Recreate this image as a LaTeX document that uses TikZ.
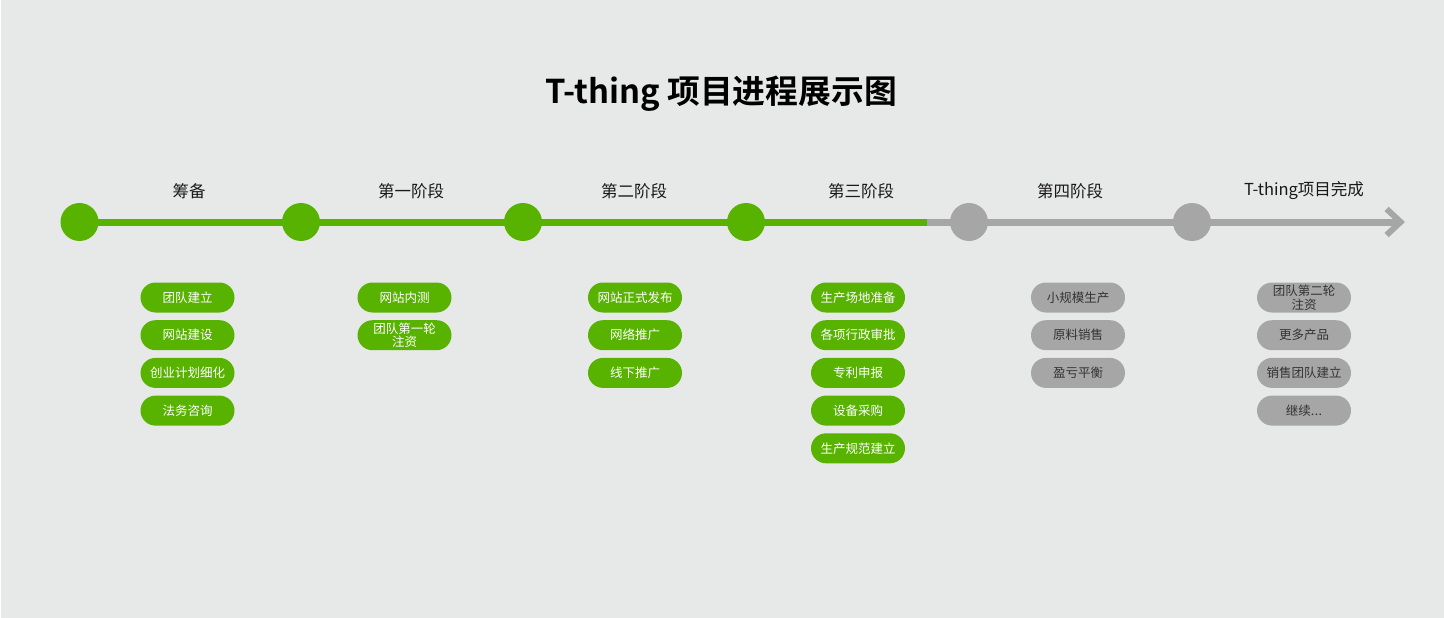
\documentclass[tikz,border=0pt]{standalone}
\usepackage{fontspec}
\setmainfont{Noto Sans CJK SC}[BoldFont={Noto Sans CJK SC Bold}]
\usepackage{xcolor}
\usetikzlibrary{positioning, arrows.meta, math}
\definecolor{tgreen}{RGB}{88,178,0}
\definecolor{tgray}{RGB}{166,166,166}
\definecolor{tbg}{RGB}{231,233,232}
\definecolor{tink}{RGB}{25,25,25}
\definecolor{tgraytext}{RGB}{51,51,51}
\newcommand{\moredots}{.\kern0.5pt.\kern0.5pt.}

\tikzset{
  stagedot/.style={circle, inner sep=0pt, minimum size=38pt},
  pill/.style={rounded corners=15pt, minimum width=94pt, minimum height=30pt,
    inner sep=0pt, align=center, font=\fontsize{12.5}{13.5}\selectfont},
  greenpill/.style={pill, fill=tgreen, text=white},
  graypill/.style={pill, fill=tgray, text=tgraytext},
  stagelabel/.style={font=\fontsize{16.5}{18}\selectfont, text=tink},
}

\begin{document}
\begin{tikzpicture}[x=1pt, y=-1pt]

\tikzmath{
\yline = 222;
\ytop = 297.5;
\dy = 37.7;
}
%
\fill[white] (0,0) rectangle (1444,618);
\fill[tbg] (1,0) rectangle (1444,618);
\useasboundingbox (0,0) rectangle (1444,618);

\node[font=\fontsize{32.8}{36}\selectfont\bfseries, text=black] (title) at (721,94) {T-thing 项目进程展示图};

% timeline
\foreach \i/\x in {1/79.5, 2/301, 3/523, 4/746}{
  \node[stagedot, fill=tgreen] (d\i) at (\x,\yline) {};
}
\foreach \i/\x in {5/969, 6/1192}{
  \node[stagedot, fill=tgray] (d\i) at (\x,\yline) {};
}
\coordinate (split) at (927,\yline);
\coordinate (tip) at (1405,\yline);

\draw[tgreen, line width=7pt] (d1.center) -- (d4.center) -- (split);
\draw[tgray, line width=7pt, -{Straight Barb[length=14pt, width=26pt, line width=6pt]}] (split) -- (d5.center) -- (d6.center) -- (tip);

% stage labels
\foreach \i/\x/\t in {1/189/筹备, 2/411/第一阶段, 3/634/第二阶段, 4/861/第三阶段, 5/1070/第四阶段, 6/1304/T-thing项目完成}{
  \node[stagelabel] (s\i) at (\x,191) {\t};
}

% tasks
\foreach \t [count=\j] in {团队建立, 网站建设, 创业计划细化, 法务咨询}{
  \node[greenpill] (a\j) at (187.5, {\ytop+\dy*(\j-1)}) {\t};
}
\foreach \t [count=\j] in {网站内测, {团队第一轮\\注资}}{
  \node[greenpill] (b\j) at (404.5, {\ytop+\dy*(\j-1)}) {\t};
}
\foreach \t [count=\j] in {网站正式发布, 网络推广, 线下推广}{
  \node[greenpill] (c\j) at (635, {\ytop+\dy*(\j-1)}) {\t};
}
\foreach \t [count=\j] in {生产场地准备, 各项行政审批, 专利申报, 设备采购, 生产规范建立}{
  \node[greenpill] (e\j) at (858, {\ytop+\dy*(\j-1)}) {\t};
}
\foreach \t [count=\j] in {小规模生产, 原料销售, 盈亏平衡}{
  \node[graypill] (f\j) at (1078, {\ytop+\dy*(\j-1)}) {\t};
}
\foreach \t [count=\j] in {{团队第二轮\\注资}, 更多产品, 销售团队建立, 继续\moredots}{
  \node[graypill] (g\j) at (1304, {\ytop+\dy*(\j-1)}) {\t};
}

\end{tikzpicture}
\end{document}
